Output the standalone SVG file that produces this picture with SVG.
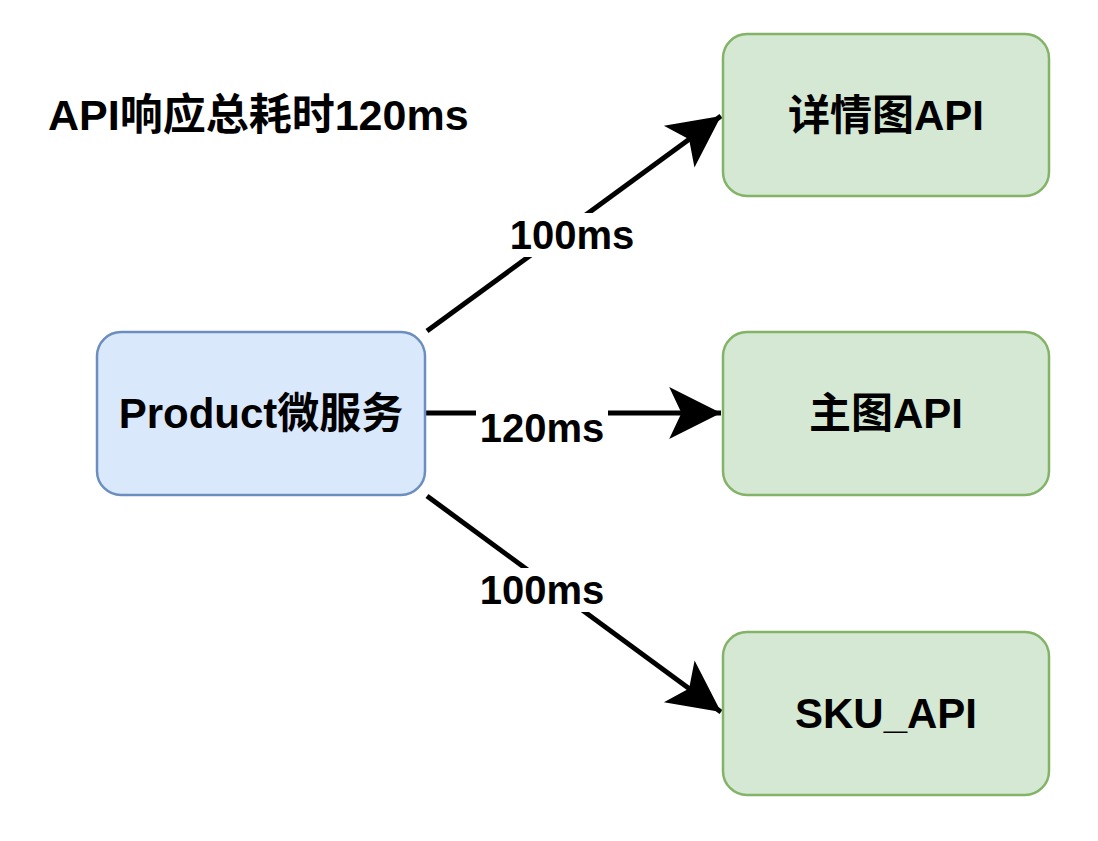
<svg xmlns="http://www.w3.org/2000/svg" width="1098" height="841" viewBox="0 0 1098 841">
<style>
.blue{fill:#dae8fc;stroke:#6c8ebf;stroke-width:2.5}
.green{fill:#d5e8d4;stroke:#82b366;stroke-width:2.5}
.t{font-family:"Liberation Sans","Noto Sans CJK SC",sans-serif;font-weight:bold;fill:#000;text-anchor:middle}
.n{font-size:42px}
.lbl{font-size:40px}
.edge{stroke:#000;stroke-width:5;fill:none}
</style>
<defs>
<marker id="arr" markerUnits="userSpaceOnUse" markerWidth="60" markerHeight="60" viewBox="-40 -22 44 44" refX="0" refY="0" orient="auto">
<path d="M-38,-19 L0,0 L-38,19 L-29,0 Z" fill="#000"/>
</marker>
</defs>
<rect width="1098" height="841" fill="#fff"/>
<text class="t" x="48" y="130" style="text-anchor:start;font-size:43px">API响应总耗时120ms</text>
<g id="connectors">
<line class="edge" x1="427" y1="331" x2="721" y2="116" marker-end="url(#arr)"/>
<line class="edge" x1="425" y1="413" x2="721" y2="413" marker-end="url(#arr)"/>
<line class="edge" x1="427" y1="496" x2="721" y2="712" marker-end="url(#arr)"/>
<rect x="506" y="213" width="132" height="44" fill="#fff"/>
<text class="t lbl" x="572" y="249">100ms</text>
<rect x="476" y="406" width="132" height="44" fill="#fff"/>
<text class="t lbl" x="542" y="442">120ms</text>
<rect x="476" y="568" width="132" height="44" fill="#fff"/>
<text class="t lbl" x="542" y="604">100ms</text>
</g>
<g id="product">
<rect class="blue" x="97" y="332" width="328" height="163" rx="24"/>
<text class="t n" x="261" y="428">Product微服务</text>
</g>
<g id="detail">
<rect class="green" x="723" y="34" width="326" height="162" rx="24"/>
<text class="t n" x="886" y="130">详情图API</text>
</g>
<g id="main">
<rect class="green" x="723" y="332" width="326" height="163" rx="24"/>
<text class="t n" x="886" y="428">主图API</text>
</g>
<g id="sku">
<rect class="green" x="723" y="632" width="326" height="163" rx="24"/>
<text class="t n" x="886" y="728">SKU_API</text>
</g>
</svg>
